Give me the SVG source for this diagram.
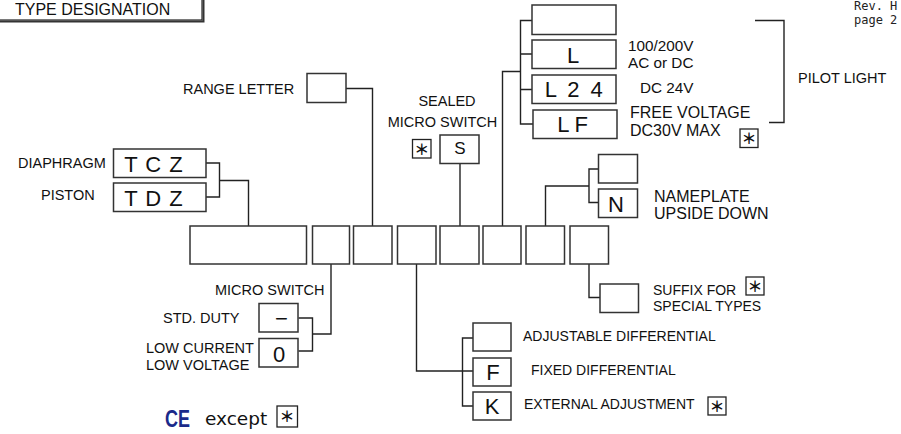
<svg xmlns="http://www.w3.org/2000/svg" width="901" height="434" viewBox="0 0 901 434">
<style>
.bx{fill:#fff;stroke:#333;stroke-width:1.5}
.sb{fill:#fff;stroke:#222;stroke-width:1.3}
.ln{fill:none;stroke:#222;stroke-width:1.4}
.t{font-family:"Liberation Sans",Arial,sans-serif;fill:#111}
.l{font-size:14.5px}
.m{font-size:16px}
.c{font-size:22px;text-anchor:middle}
.st{font-family:"Noto Sans CJK JP",sans-serif;font-size:15px;font-weight:700;text-anchor:middle;fill:#111}
.mono{font-family:"DejaVu Sans Mono",monospace;font-size:12px;fill:#222}
</style>
<rect width="901" height="434" fill="#fff"/>

<g id="title">
<rect x="-2" y="-2" width="204" height="22" fill="#fff" stroke="#222" stroke-width="1.2"/>
<path d="M203.5 0 V21.5 H0" fill="none" stroke="#333" stroke-width="2"/>
<text class="t" x="15" y="14.5" font-size="16">TYPE DESIGNATION</text>
</g>
<g id="rev">
<text class="mono" x="854" y="10">Rev. H</text>
<text class="mono" x="854" y="24">page 2</text>
</g>

<g id="connectors">
<path class="ln" d="M248.5 226 V180.5 H219.5 M206 163 H219.5 V197 H206"/>
<path class="ln" d="M331 264 V334 H312.5 M298.5 318 H312.5 V351 H298.5"/>
<path class="ln" d="M372.5 226 V88.5 H346"/>
<path class="ln" d="M416.5 264 V371 H473 M473 338 H462.5 V406 H473"/>
<path class="ln" d="M460 226 V163.5"/>
<path class="ln" d="M502.5 226 V71.5 H520.5 M532 20.5 H520.5 V124 H533 M520.5 54 H532 M520.5 89.5 H532"/>
<path class="ln" d="M545.5 226 V186 H589 M598.5 169 H589 V202.5 H598.5"/>
<path class="ln" d="M589 264 V297.5 H600"/>
<path class="ln" d="M755 20.5 H784 V122.5 H769"/>
</g>

<g id="main-1"><rect class="bx" x="190" y="226" width="116.5" height="38"/></g>
<g id="main-2"><rect class="bx" x="312.5" y="226" width="37" height="38"/></g>
<g id="main-3"><rect class="bx" x="353.5" y="226" width="38.5" height="38"/></g>
<g id="main-4"><rect class="bx" x="397.5" y="226" width="38.5" height="38"/></g>
<g id="main-5"><rect class="bx" x="440" y="226" width="39" height="38"/></g>
<g id="main-6"><rect class="bx" x="483" y="226" width="38" height="38"/></g>
<g id="main-7"><rect class="bx" x="526" y="226" width="38.5" height="38"/></g>
<g id="main-8"><rect class="bx" x="570" y="226" width="38.5" height="38"/></g>

<g id="tcz">
<text class="t l" x="18" y="168">DIAPHRAGM</text>
<rect class="bx" x="113.5" y="149" width="92.5" height="28.5"/>
<text class="t c" x="154" y="171.5" letter-spacing="1">T C Z</text>
</g>
<g id="tdz">
<text class="t l" x="41" y="200">PISTON</text>
<rect class="bx" x="113.5" y="183" width="92.5" height="28.5"/>
<text class="t c" x="154" y="205.5" letter-spacing="1">T D Z</text>
</g>

<g id="range">
<text class="t l" x="183" y="94">RANGE LETTER</text>
<rect class="bx" x="307" y="73.5" width="39" height="29"/>
</g>

<g id="sealed">
<text class="t l" x="447" y="106" text-anchor="middle">SEALED</text>
<text class="t l" x="442.5" y="127" text-anchor="middle">MICRO SWITCH</text>
<rect class="sb" x="412.5" y="139.5" width="18.5" height="18.5"/>
<text class="st" x="421.7" y="154.8">＊</text>
<rect class="bx" x="440" y="135" width="39" height="28.5"/>
<text class="t" x="460" y="153.5" font-size="17" text-anchor="middle">S</text>
</g>

<g id="pilot-blank"><rect class="bx" x="532" y="5" width="84" height="29.5"/></g>
<g id="pilot-l">
<rect class="bx" x="532" y="40" width="84" height="28.5"/>
<text class="t c" x="573" y="63" font-size="20">L</text>
<text class="t" x="628" y="51" font-size="15.3">100/200V</text>
<text class="t" x="628" y="68" font-size="15.3">AC or DC</text>
</g>
<g id="pilot-l24">
<rect class="bx" x="532" y="75" width="84" height="28.5"/>
<text class="t c" x="575" y="97" font-size="21" letter-spacing="2.5">L 2 4</text>
<text class="t" x="640" y="93" font-size="15.3">DC 24V</text>
</g>
<g id="pilot-lf">
<rect class="bx" x="533" y="110" width="84" height="28.5"/>
<text class="t c" x="575" y="132" font-size="21" letter-spacing="5">LF</text>
<text class="t m" x="630" y="118">FREE VOLTAGE</text>
<text class="t m" x="630" y="136">DC30V MAX</text>
<rect class="sb" x="740" y="129" width="18" height="18.5"/>
<text class="st" x="749" y="144.3">＊</text>
</g>
<g id="pilot-label"><text class="t l" x="798" y="83">PILOT LIGHT</text></g>

<g id="name-blank"><rect class="bx" x="598.5" y="154.5" width="39" height="28.5"/></g>
<g id="name-n">
<rect class="bx" x="598.5" y="189" width="39" height="28.5"/>
<text class="t c" x="616" y="212" font-size="20">N</text>
<text class="t m" x="654" y="202">NAMEPLATE</text>
<text class="t m" x="654" y="219">UPSIDE DOWN</text>
</g>

<g id="suffix">
<rect class="bx" x="600" y="284" width="38.5" height="28.5"/>
<text class="t" x="653" y="295" font-size="14">SUFFIX FOR</text>
<text class="t" x="653" y="311" font-size="14">SPECIAL TYPES</text>
<rect class="sb" x="746" y="277" width="18" height="18"/>
<text class="st" x="755" y="292">＊</text>
</g>

<g id="diff-adj">
<rect class="bx" x="473" y="323" width="38" height="28"/>
<text class="t" x="523" y="341" font-size="14">ADJUSTABLE DIFFERENTIAL</text>
</g>
<g id="diff-f">
<rect class="bx" x="473" y="358" width="38" height="28"/>
<text class="t c" x="493" y="380">F</text>
<text class="t" x="531" y="375" font-size="14">FIXED DIFFERENTIAL</text>
</g>
<g id="diff-k">
<rect class="bx" x="473" y="392" width="38" height="28"/>
<text class="t c" x="492" y="414">K</text>
<text class="t" x="524" y="409" font-size="14">EXTERNAL ADJUSTMENT</text>
<rect class="sb" x="708" y="397" width="18" height="18"/>
<text class="st" x="717" y="412">＊</text>
</g>

<g id="micro-label"><text class="t l" x="215" y="295">MICRO SWITCH</text></g>
<g id="micro-std">
<text class="t l" x="163" y="323">STD. DUTY</text>
<rect class="bx" x="259" y="303.5" width="39" height="28.5"/>
<text class="t c" x="281.5" y="325.5">−</text>
</g>
<g id="micro-low">
<text class="t l" x="146" y="353">LOW CURRENT</text>
<text class="t l" x="146" y="370">LOW VOLTAGE</text>
<rect class="bx" x="259" y="338.5" width="39" height="28.5"/>
<text class="t c" x="279" y="361.5">0</text>
</g>

<g id="ce">
<text x="165" y="427" font-family="Liberation Sans,sans-serif" font-weight="700" font-size="23" fill="#1a2a8a" textLength="25" lengthAdjust="spacingAndGlyphs">CE</text>
<text x="205" y="425" font-family="DejaVu Sans,sans-serif" font-size="18.5" fill="#111">except</text>
<rect class="sb" x="277" y="406" width="20.5" height="21"/>
<text class="st" x="287" y="422.3" font-size="17">＊</text>
</g>
</svg>
